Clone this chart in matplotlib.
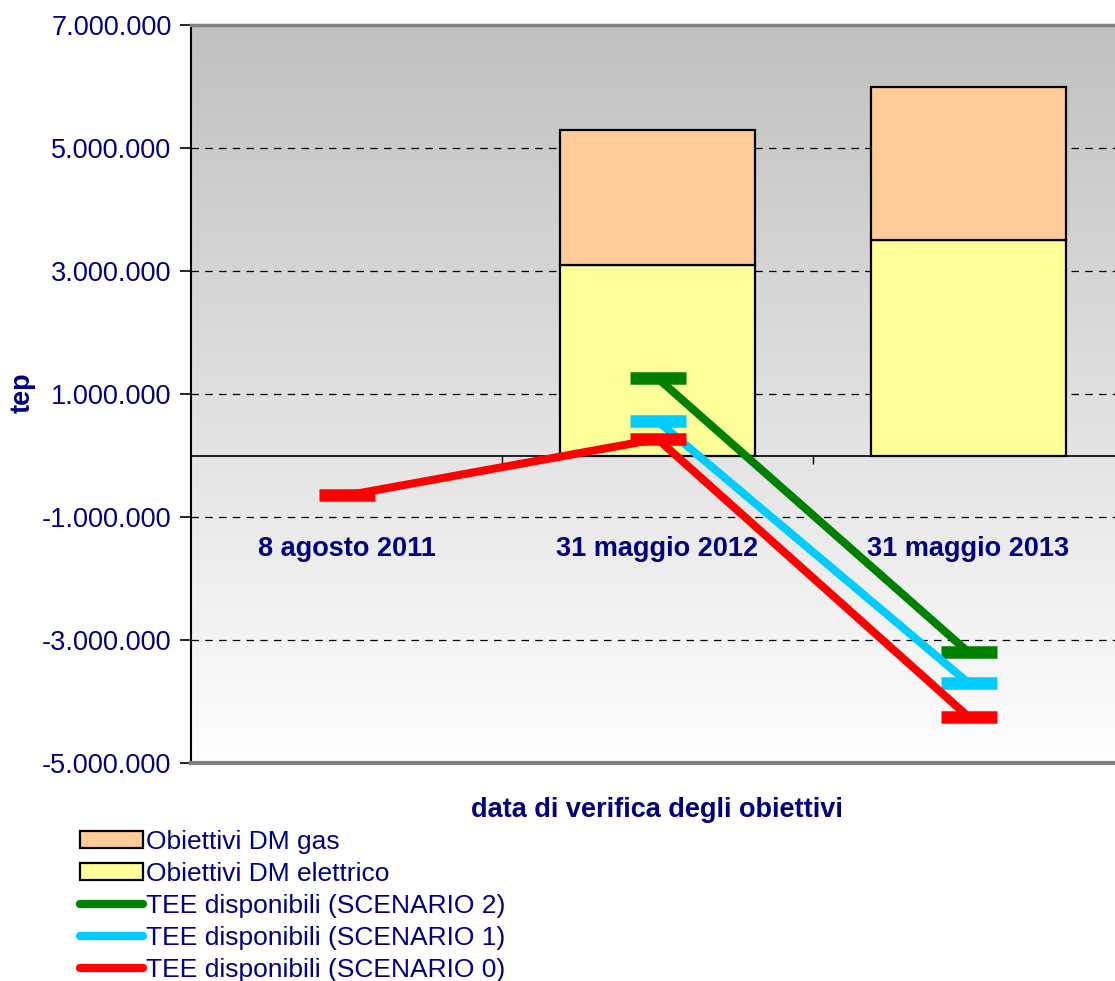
import numpy as np
import matplotlib

matplotlib.use('Agg')
import matplotlib.pyplot as plt
from matplotlib.patches import Patch
from matplotlib.lines import Line2D

plt.rcParams['font.family'] = ['Liberation Sans', 'DejaVu Sans']

# data
categories = ['8 agosto 2011', '31 maggio 2012', '31 maggio 2013']
dm_elettrico = [np.nan, 3100000, 3500000]
dm_gas = [np.nan, 2200000, 2500000]
scenario_2 = [np.nan, 1260000, -3200000]
scenario_1 = [np.nan, 560000, -3700000]
scenario_0 = [-650000, 270000, -4250000]
y_ticks = [7000000, 5000000, 3000000, 1000000, -1000000, -3000000, -5000000]

navy = '#000080'
fs = 19.5

fig = plt.figure(figsize=(11.15, 9.81), dpi=100)
ax = fig.add_axes([0.1713, 0.2222, 0.8368, 0.7523])

x = np.arange(len(categories))
ax.set_xlim(-0.5, 2.5)
ax.set_ylim(-5000000, 7000000)

# gradient background
grad = np.linspace(0, 1, 256).reshape(-1, 1)
ax.imshow(grad, extent=[-0.5, 2.5, -5000000, 7000000], aspect='auto',
          cmap=matplotlib.colors.LinearSegmentedColormap.from_list('bg', ['#fefefe', '#c0c0c0']),
          origin='lower', zorder=0)

for yt in y_ticks:
    if yt not in (7000000, -5000000):
        ax.axhline(yt, color='black', lw=0.9, ls=(0, (6, 5)), zorder=1)
ax.axhline(-5000000, color='#808080', lw=3, zorder=5, clip_on=False)
ax.axhline(0, color='black', lw=1.2, zorder=2)

bw = 0.624
ax.bar(x, dm_elettrico, bw, color='#FFFF99', edgecolor='black', lw=1.6, zorder=3)
ax.bar(x, dm_gas, bw, bottom=dm_elettrico, color='#FFCC99', edgecolor='black', lw=1.6, zorder=3)

for vals, col in [(scenario_2, '#008000'), (scenario_1, '#00CCFF'), (scenario_0, '#FF0000')]:
    ax.plot(x, vals, color=col, lw=5.8, marker='_', markersize=40, mew=9,
            solid_capstyle='butt', zorder=4)

# category labels inside the plot area
for xi, cat in zip(x, categories):
    ax.text(xi, -1520000, cat, ha='center', va='center', fontsize=fs,
            fontweight='bold', color=navy, zorder=6)

# category boundary ticks on zero line
ax.vlines([0.5, 1.5], -130000, 0, color='black', lw=1, zorder=2)

ax.set_yticks(y_ticks)
ax.set_yticklabels([f"{v:,.0f}".replace(',', '.') for v in y_ticks], color=navy, fontsize=fs)
ax.tick_params(axis='y', direction='out', length=8, width=1.2, pad=6)
ax.set_xticks([])

ax.spines['left'].set_linewidth(1.5)
ax.spines['top'].set_color('#808080')
ax.spines['top'].set_linewidth(2.5)
ax.spines['right'].set_visible(False)
ax.spines['bottom'].set_visible(False)

fig.text(0.02, 1 - 393 / 981, 'tep', rotation=90, ha='center', va='center',
         fontsize=fs, fontweight='bold', color=navy)
fig.text(657 / 1115, 1 - 810 / 981, 'data di verifica degli obiettivi', ha='center',
         va='center', fontsize=fs, fontweight='bold', color=navy)

handles = [
    Patch(facecolor='#FFCC99', edgecolor='black', lw=1.6),
    Patch(facecolor='#FFFF99', edgecolor='black', lw=1.6),
    Line2D([], [], color='#008000', lw=6, solid_capstyle='round'),
    Line2D([], [], color='#00CCFF', lw=6, solid_capstyle='round'),
    Line2D([], [], color='#FF0000', lw=6, solid_capstyle='round'),
]
labels = ['Obiettivi DM gas', 'Obiettivi DM elettrico', 'TEE disponibili (SCENARIO 2)',
          'TEE disponibili (SCENARIO 1)', 'TEE disponibili (SCENARIO 0)']
leg = fig.legend(handles, labels, loc='upper left', bbox_to_anchor=(0.0717, 0.154),
                 frameon=False, fontsize=19, labelcolor=navy, handlelength=2.4,
                 handleheight=0.65, handletextpad=0.1, labelspacing=0.3, borderpad=0,
                 borderaxespad=0)

fig.savefig('out.png', dpi=100)
